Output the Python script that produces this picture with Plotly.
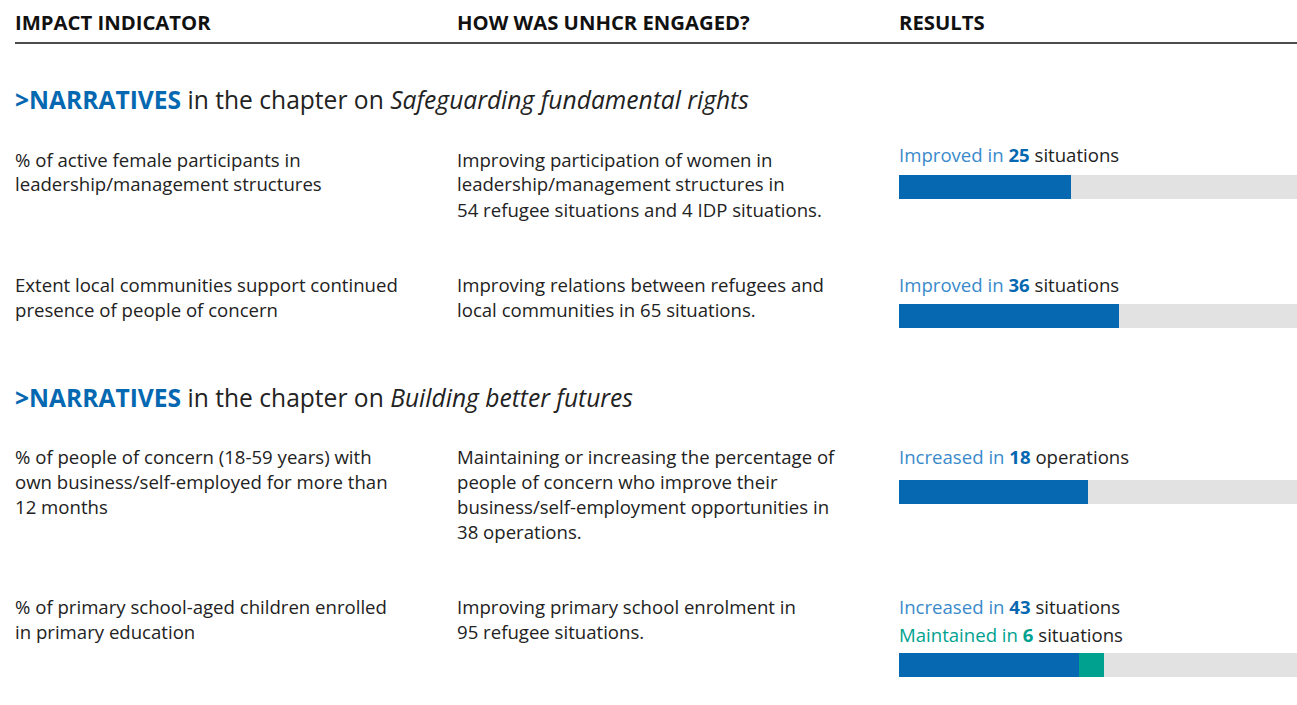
import plotly.graph_objects as go

W, H = 1297, 705

# ---------------- data ----------------
col_headers = ["IMPACT INDICATOR", "HOW WAS UNHCR ENGAGED?", "RESULTS"]
chapters = ["Safeguarding fundamental rights", "Building better futures"]
indicators = [
    ["% of active female participants in", "leadership/management structures"],
    ["Extent local communities support continued", "presence of people of concern"],
    ["% of people of concern (18-59 years) with", "own business/self-employed for more than", "12 months"],
    ["% of primary school-aged children enrolled", "in primary education"],
]
engagements = [
    ["Improving participation of women in", "leadership/management structures in", "54 refugee situations and 4 IDP situations."],
    ["Improving relations between refugees and", "local communities in 65 situations."],
    ["Maintaining or increasing the percentage of", "people of concern who improve their",
     "business/self-employment opportunities in", "38 operations."],
    ["Improving primary school enrolment in", "95 refugee situations."],
]
result_verbs = ["Improved", "Improved", "Increased", "Increased"]
result_units = ["situations", "situations", "operations", "situations"]
improved = [25, 36, 18, 43]
maintained = [0, 0, 0, 6]
totals = [58, 65, 38, 95]

# ---------------- style / layout ----------------
BLUE = "#0568B1"
LBLUE = "#3A8ACB"
TEAL = "#00A28F"
GREY = "#E2E2E2"
TXT = "#222222"
FONT = "Open Sans"

def px(x):
    return x / W

def py(y):
    return 1 - y / H

col_x = [13, 455, 897]
section_y = [100, 397]
row_text_y = [159, 284, 456, 606]
line_gap = 25
result_y = [154, 284, 456, 606]
bar_top = [175, 304, 480, 653]
bar_h = 24
bar_x0 = 899

annotations = []
shapes = []

def add_text(x, y, text, size=17, color=TXT):
    annotations.append(dict(
        x=px(x), y=py(y), xref="paper", yref="paper", text=text, showarrow=False,
        xanchor="left", yanchor="middle", font=dict(family=FONT, size=size, color=color)))

for cx, h in zip(col_x, col_headers):
    add_text(cx, 22, f"<b>{h}</b>", size=20.3, color="#111")
shapes.append(dict(type="line", xref="paper", yref="paper", x0=px(15), x1=1, y0=py(43), y1=py(43),
                   line=dict(color="#111", width=1.5)))

for sy, ch in zip(section_y, chapters):
    add_text(col_x[0], sy,
             f"<b><span style='color:{BLUE}'>&gt;NARRATIVES</span></b> in the chapter on <i>{ch}</i>",
             size=24.6)

for i in range(4):
    for j, line in enumerate(indicators[i]):
        add_text(col_x[0], row_text_y[i] + j * line_gap, line, size=18.6)
    for j, line in enumerate(engagements[i]):
        add_text(col_x[1], row_text_y[i] + j * line_gap, line, size=18.6)
    add_text(col_x[2], result_y[i],
             f"<span style='color:{LBLUE}'>{result_verbs[i]} in </span>"
             f"<b><span style='color:{BLUE}'>{improved[i]}</span></b> {result_units[i]}", size=18.6)
    if maintained[i]:
        add_text(col_x[2], result_y[i] + 28,
                 f"<span style='color:{TEAL}'>Maintained in </span>"
                 f"<b><span style='color:{TEAL}'>{maintained[i]}</span></b> {result_units[i]}", size=18.6)

fig = go.Figure()
layout_axes = {}
for i in range(4):
    n = i + 1
    xa = f"x{n}"
    ya = f"y{n}"
    rest = totals[i] - improved[i] - maintained[i]
    for val, col in [(improved[i], BLUE), (maintained[i], TEAL), (rest, GREY)]:
        fig.add_trace(go.Bar(x=[val], y=[0], orientation="h", marker=dict(color=col, line=dict(width=0)),
                             width=1, xaxis=xa, yaxis=ya, showlegend=False, hoverinfo="x"))
    key = "" if n == 1 else str(n)
    layout_axes[f"xaxis{key}"] = dict(domain=[px(bar_x0), 1], range=[0, totals[i]], visible=False,
                                     anchor=ya, fixedrange=True)
    layout_axes[f"yaxis{key}"] = dict(domain=[py(bar_top[i] + bar_h), py(bar_top[i])], range=[-0.5, 0.5],
                                     visible=False, anchor=xa, fixedrange=True)

fig.update_layout(
    width=W, height=H, margin=dict(l=0, r=0, t=0, b=0),
    paper_bgcolor="white", plot_bgcolor="white", barmode="stack", bargap=0,
    annotations=annotations, shapes=shapes, **layout_axes)

fig.write_html("out.html", config={"displayModeBar": False},
               post_script="document.body.style.margin='0';document.body.style.overflow='hidden';")
